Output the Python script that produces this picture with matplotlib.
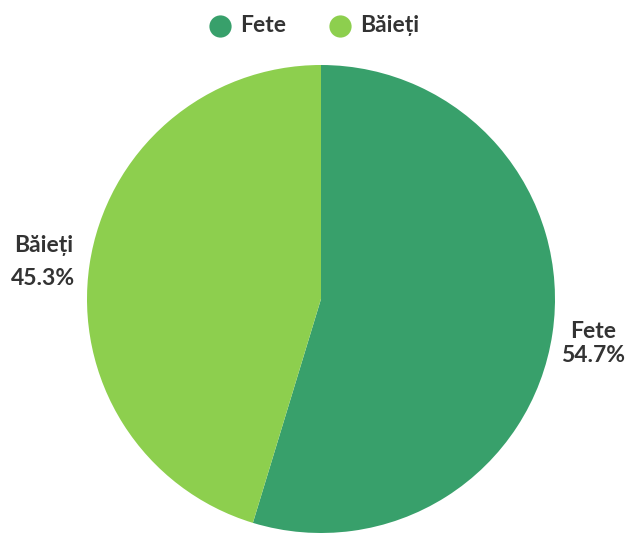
import matplotlib
matplotlib.use("Agg")
import matplotlib.pyplot as plt
import numpy as np

categories = ["Fete", "Băieți"]
values = [54.7, 45.3]
colors = ["#38a06b", "#8dcf4e"]

W, H = 625, 533
fig = plt.figure(figsize=(W / 100, H / 100), dpi=100)
ax = fig.add_axes([0, 0, 1, 1])

cx, cy, r = 321, H - 299, 234
font = "Lato"
fs = 16.5
tcol = "#333333"
wedges, _ = ax.pie(values, colors=colors, startangle=90, counterclock=False,
                   center=(cx, cy), radius=r, frame=True,
                   wedgeprops=dict(linewidth=0))
ax.set_xlim(0, W)
ax.set_ylim(0, H)
ax.set_aspect("equal")
ax.axis("off")

# data labels: name above, percentage below
gaps = [24, 33]
dists = [1.175, 1.2]
for w, c, v, g, dd in zip(wedges, categories, values, gaps, dists):
    mid = np.deg2rad((w.theta1 + w.theta2) / 2)
    d = dd * r
    x = cx + d * np.cos(mid)
    y = cy + d * np.sin(mid) - 4
    ax.text(x, y + g / 2, c, ha="center", va="center", fontsize=fs,
            fontweight="bold", color=tcol, family=font)
    ax.text(x, y - g / 2, f"{v}%", ha="center", va="center", fontsize=fs,
            fontweight="bold", color=tcol, family=font)

# legend at top
leg_x = [220, 340]
leg_y = H - 26
for lx, c, col in zip(leg_x, categories, colors):
    ax.plot([lx], [leg_y], marker="o", markersize=16, color=col,
            markeredgewidth=0, clip_on=False)
    ax.text(lx + 20, leg_y, c, ha="left", va="center", fontsize=fs,
            fontweight="bold", color=tcol, family=font)

fig.savefig("out.png", dpi=100)
